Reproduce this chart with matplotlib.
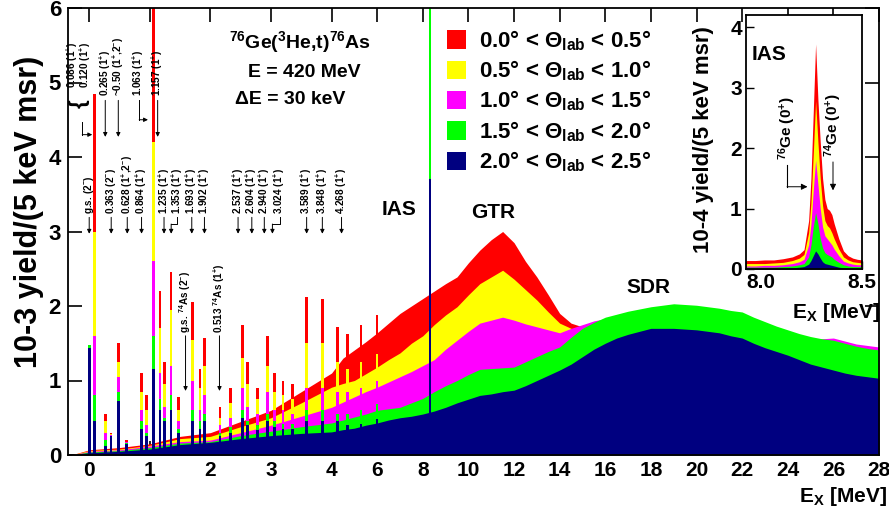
import numpy as np
import matplotlib
matplotlib.use("Agg")
import matplotlib.pyplot as plt
from matplotlib.patches import Patch

plt.rcParams['font.family'] = ['Liberation Sans', 'DejaVu Sans']
plt.rcParams['font.weight'] = 'bold'
plt.rcParams['mathtext.fontset'] = 'custom'
plt.rcParams['mathtext.rm'] = 'Liberation Sans:bold'
plt.rcParams['mathtext.it'] = 'Liberation Sans:bold'
plt.rcParams['mathtext.bf'] = 'Liberation Sans:bold'
plt.rcParams['mathtext.default'] = 'rm'

# ========== DATA ==========
ANGLE_BINS = ["0.0° < Θ$_{lab}$ < 0.5°", "0.5° < Θ$_{lab}$ < 1.0°",
              "1.0° < Θ$_{lab}$ < 1.5°", "1.5° < Θ$_{lab}$ < 2.0°",
              "2.0° < Θ$_{lab}$ < 2.5°"]
COLORS = ["#ff0000", "#ffff00", "#ff00ff", "#00ff00", "#000080"]

# smooth continuum, 10^-3 yield/(5 keV msr)
E_CONT = [-0.3, 0.0, 0.5, 1.0, 1.5, 2.0, 2.5, 3.0, 3.5, 4.0, 4.5, 5.0, 5.5, 6.0,
          6.5, 7.0, 7.5, 8.0, 8.5, 9.0, 9.5, 10.0, 10.5, 11.0, 11.5, 12.0, 12.5,
          13.0, 13.5, 14.0, 14.5, 15.0, 15.5, 16.0, 16.5, 17.0, 17.5, 18.0, 18.5,
          19.0, 19.5, 20.0, 20.5, 21.0, 21.5, 22.0, 22.5, 23.0, 23.5, 24.0, 24.5,
          25.0, 25.5, 26.0, 26.5, 27.0, 27.5, 28.0]
CONT_RED = [0, 0.07, 0.10, 0.15, 0.25, 0.30, 0.45, 0.60, 0.85, 1.10, 1.30, 1.41, 1.52, 1.64,
            1.77, 1.90, 2.00, 2.10, 2.20, 2.30, 2.39, 2.58, 2.75, 2.89, 3.00, 2.85, 2.60,
            2.39, 2.15, 1.90, 1.77, 1.72, 1.62, 1.63, 1.65, 1.67, 1.69, 1.71, 1.72,
            1.73, 1.73, 1.72, 1.70, 1.68, 1.65, 1.62, 1.57, 1.52, 1.47, 1.43, 1.39,
            1.35, 1.32, 1.30, 1.28, 1.26, 1.25, 1.23]
CONT_YEL = [0, 0.06, 0.08, 0.13, 0.22, 0.25, 0.38, 0.50, 0.70, 0.91, 0.96, 1.00, 1.09, 1.18,
            1.28, 1.37, 1.50, 1.60, 1.75, 1.88, 1.99, 2.15, 2.30, 2.39, 2.48, 2.36, 2.22,
            2.08, 1.92, 1.77, 1.70, 1.66, 1.66, 1.68, 1.70, 1.72, 1.74, 1.76, 1.77,
            1.78, 1.78, 1.77, 1.75, 1.73, 1.70, 1.67, 1.62, 1.57, 1.52, 1.48, 1.44,
            1.40, 1.37, 1.35, 1.33, 1.31, 1.30, 1.28]
CONT_MAG = [0, 0.05, 0.07, 0.12, 0.18, 0.20, 0.30, 0.40, 0.52, 0.64, 0.71, 0.78, 0.85, 0.91,
            0.98, 1.05, 1.12, 1.20, 1.28, 1.42, 1.54, 1.66, 1.77, 1.81, 1.85, 1.81, 1.76,
            1.72, 1.68, 1.64, 1.70, 1.75, 1.80, 1.83, 1.82, 1.84, 1.86, 1.88, 1.90,
            1.90, 1.90, 1.89, 1.87, 1.85, 1.83, 1.80, 1.75, 1.70, 1.65, 1.62, 1.58,
            1.56, 1.56, 1.57, 1.53, 1.49, 1.47, 1.45]
CONT_GRN = [0, 0.04, 0.06, 0.10, 0.16, 0.18, 0.26, 0.32, 0.38, 0.43, 0.47, 0.51, 0.55, 0.60,
            0.62, 0.64, 0.70, 0.76, 0.85, 0.93, 1.00, 1.08, 1.15, 1.16, 1.17, 1.18, 1.25,
            1.32, 1.39, 1.45, 1.58, 1.70, 1.78, 1.85, 1.89, 1.93, 1.96, 1.99, 2.01,
            2.03, 2.02, 2.01, 1.99, 1.97, 1.94, 1.92, 1.85, 1.79, 1.73, 1.68, 1.63,
            1.59, 1.56, 1.54, 1.50, 1.46, 1.43, 1.41]
CONT_BLU = [0, 0.03, 0.05, 0.08, 0.14, 0.17, 0.22, 0.26, 0.29, 0.31, 0.34, 0.36, 0.40, 0.43,
            0.47, 0.50, 0.52, 0.55, 0.59, 0.64, 0.70, 0.75, 0.80, 0.82, 0.85, 0.87, 0.93,
            1.00, 1.07, 1.14, 1.22, 1.32, 1.42, 1.50, 1.57, 1.62, 1.66, 1.70, 1.70,
            1.70, 1.69, 1.68, 1.66, 1.64, 1.60, 1.57, 1.50, 1.44, 1.39, 1.34, 1.28,
            1.22, 1.18, 1.14, 1.10, 1.07, 1.05, 1.03]

# discrete peaks (MeV) and their heights per angle bin
PEAK_E = [0.00, 0.09, 0.27, 0.36, 0.48, 0.62, 0.86, 0.94, 1.06, 1.17, 1.24, 1.35, 1.47,
          1.70, 1.83, 1.90, 2.16, 2.33, 2.53, 2.61, 2.78, 2.94, 3.06, 3.20, 3.35, 3.59,
          3.85, 4.27, 4.70, 5.30, 6.00, 8.31]
PEAK_RED = [1.20, 4.85, 0.55, 0.30, 1.50, 0.20, 1.10, 0.80, 6.50, 2.20, 1.25, 2.45, 0.78,
            2.05, 1.15, 1.57, 0.65, 0.90, 1.75, 1.25, 0.90, 1.60, 1.10, 1.00, 0.95, 2.12,
            2.10, 1.72, 1.62, 1.75, 1.88, 7.00]
PEAK_YEL = [1.30, 3.00, 0.45, 0.28, 1.25, 0.18, 0.85, 0.60, 4.20, 1.70, 0.95, 1.95, 0.60,
            1.55, 0.90, 1.20, 0.50, 0.70, 1.30, 0.95, 0.75, 1.20, 0.85, 0.80, 0.75, 1.50,
            1.50, 1.25, 1.15, 1.25, 1.35, 7.00]
PEAK_MAG = [1.40, 1.60, 0.30, 0.27, 1.05, 0.17, 0.60, 0.40, 2.60, 1.10, 0.65, 1.20, 0.45,
            1.00, 0.60, 0.80, 0.40, 0.50, 0.90, 0.65, 0.55, 0.85, 0.60, 0.60, 0.55, 0.90,
            0.90, 0.85, 0.85, 0.90, 1.00, 7.00]
PEAK_GRN = [1.48, 0.80, 0.20, 0.26, 0.85, 0.16, 0.45, 0.30, 1.60, 0.75, 0.50, 0.80, 0.35,
            0.60, 0.45, 0.55, 0.30, 0.38, 0.60, 0.45, 0.40, 0.55, 0.45, 0.42, 0.42, 0.60,
            0.60, 0.55, 0.55, 0.60, 0.68, 7.00]
PEAK_BLU = [1.44, 0.45, 0.12, 0.25, 0.72, 0.15, 0.35, 0.25, 1.15, 0.60, 0.45, 0.60, 0.30,
            0.45, 0.35, 0.45, 0.25, 0.30, 0.50, 0.40, 0.33, 0.45, 0.38, 0.35, 0.35, 0.45,
            0.45, 0.45, 0.40, 0.42, 0.48, 3.70]

# IAS inset, 10^-4 yield/(5 keV msr)
E_INSET = [8.00, 8.04, 8.08, 8.12, 8.16, 8.20, 8.23, 8.25, 8.27, 8.28, 8.29, 8.30, 8.31,
           8.32, 8.33, 8.34, 8.35, 8.36, 8.37, 8.38, 8.40, 8.42, 8.44, 8.46, 8.48, 8.50]
INS_RED = [0.14, 0.14, 0.15, 0.15, 0.17, 0.20, 0.25, 0.32, 0.80, 1.50, 2.60, 3.72, 2.80,
           2.10, 1.50, 1.15, 1.00, 0.97, 0.90, 0.75, 0.50, 0.30, 0.22, 0.18, 0.16, 0.15]
INS_YEL = [0.09, 0.09, 0.09, 0.10, 0.11, 0.14, 0.18, 0.24, 0.60, 1.10, 1.90, 2.78, 2.10,
           1.50, 1.05, 0.80, 0.72, 0.68, 0.60, 0.50, 0.33, 0.20, 0.15, 0.12, 0.11, 0.10]
INS_MAG = [0.05, 0.05, 0.06, 0.06, 0.07, 0.09, 0.12, 0.16, 0.40, 0.75, 1.30, 1.80, 1.40,
           1.00, 0.70, 0.55, 0.50, 0.45, 0.40, 0.33, 0.22, 0.13, 0.10, 0.08, 0.07, 0.07]
INS_GRN = [0.03, 0.03, 0.03, 0.03, 0.04, 0.05, 0.07, 0.09, 0.20, 0.40, 0.70, 0.93, 0.75,
           0.50, 0.35, 0.27, 0.24, 0.22, 0.20, 0.16, 0.11, 0.07, 0.05, 0.04, 0.04, 0.04]
INS_BLU = [0.01, 0.01, 0.01, 0.01, 0.01, 0.02, 0.03, 0.04, 0.08, 0.14, 0.22, 0.30, 0.25,
           0.18, 0.12, 0.09, 0.08, 0.07, 0.06, 0.05, 0.03, 0.02, 0.015, 0.01, 0.01, 0.01]

X_TICKS = [0, 1, 2, 3, 4, 6, 8, 10, 12, 14, 16, 18, 20, 22, 24, 26, 28]

LOW_LEVELS = [0.0, 0.363, 0.628, 0.864, 1.235, 1.353, 1.693, 1.902, 2.537, 2.604,
              2.940, 3.024, 3.589, 3.848, 4.268]
LOW_LABELS = ["g.s. (2$^{-}$)", "0.363 (2$^{-}$)", "0.628 (1$^{+}$,2$^{-}$)", "0.864 (1$^{+}$)",
              "1.235 (1$^{+}$)", "1.353 (1$^{+}$)", "1.693 (1$^{+}$)", "1.902 (1$^{+}$)",
              "2.537 (1$^{+}$)", "2.604 (1$^{+}$)", "2.940 (1$^{+}$)", "3.024 (1$^{+}$)",
              "3.589 (1$^{+}$)", "3.848 (1$^{+}$)", "4.268 (1$^{+}$)"]
# ==========================

SERIES_CONT = [CONT_RED, CONT_YEL, CONT_MAG, CONT_GRN, CONT_BLU]
SERIES_PEAK = [PEAK_RED, PEAK_YEL, PEAK_MAG, PEAK_GRN, PEAK_BLU]
SERIES_INS = [INS_RED, INS_YEL, INS_MAG, INS_GRN, INS_BLU]

K = 0.3765  # compression of the axis above 4 MeV


def fwd(x):
    x = np.asarray(x, float)
    return np.where(x <= 4, x, 4 + (x - 4) * K)


def inv(u):
    u = np.asarray(u, float)
    return np.where(u <= 4, u, 4 + (u - 4) / K)


W, H = 889, 513
fig = plt.figure(figsize=(W / 100, H / 100), dpi=100)
ax = fig.add_axes([68 / W, 1 - 455 / H, 811 / W, 447 / H])
ax.set_xscale('function', functions=(fwd, inv))

peak_e = np.array(PEAK_E)
widths = np.where(peak_e < 4, 0.045, 0.11)
for z, (c, cont, pk) in enumerate(zip(COLORS, SERIES_CONT, SERIES_PEAK)):
    ax.fill_between(E_CONT, cont, 0, color=c, lw=0, zorder=2 + z)
    ax.bar(peak_e, pk, width=widths, color=c, lw=0, zorder=2 + z)

ax.set_xlim(-0.35, 28)
ax.set_ylim(0, 6)
ax.set_xticks(X_TICKS)
ax.set_xticklabels([str(t) for t in X_TICKS])
ax.set_yticks(range(7))
ax.tick_params(direction='in', top=True, right=True, length=10, width=1.2, pad=4)
ax.tick_params(axis='x', labelsize=15)
ax.tick_params(axis='y', labelsize=16, pad=5)
for s in ax.spines.values():
    s.set_linewidth(1.3)
    s.set_zorder(20)

fig.text(29 / W, 1 - 212 / H, "10-3 yield/(5 keV msr)", rotation=90,
         ha='center', va='center', fontsize=22)
fig.text(887 / W, 1 - 497 / H, "E$_{X}$ [MeV]", ha='right', va='center', fontsize=15)

handles = [Patch(facecolor=c, edgecolor='none') for c in COLORS]
ax.legend(handles, ANGLE_BINS, loc='upper left', bbox_to_anchor=(0.456, 0.975),
          frameon=False, fontsize=16, handlelength=0.85, handleheight=0.9,
          handletextpad=0.6, labelspacing=0.26, borderaxespad=0)

ax.text(3.48, 5.54, "$^{76}$Ge($^{3}$He,t)$^{76}$As", ha='center', va='center', fontsize=14)
ax.text(3.55, 5.14, "E = 420 MeV", ha='center', va='center', fontsize=14)
ax.text(3.32, 4.77, "ΔE = 30 keV", ha='center', va='center', fontsize=14)
ax.text(6.97, 3.29, "IAS", ha='center', va='center', fontsize=15, zorder=30)
ax.text(11.1, 3.26, "GTR", ha='center', va='center', fontsize=15, zorder=30)
ax.text(17.9, 2.25, "SDR", ha='center', va='center', fontsize=15, zorder=30)

arrow = dict(arrowstyle='-|>', lw=0.7, color='k', mutation_scale=6, shrinkA=0, shrinkB=0)
lbl = dict(rotation=90, ha='center', va='bottom', fontsize=7.2, zorder=30)

# upper row of level labels
ax.text(-0.27, 4.92, "0.086 (1$^{+}$)", **lbl)
ax.text(-0.06, 4.92, "0.120 (1$^{+}$)", **lbl)
ax.text(-0.165, 4.72, "{", rotation=90, ha='center', va='center', fontsize=16, zorder=30)
ax.plot([-0.115, -0.115], [4.47, 4.30], color='k', lw=0.7, zorder=30)
ax.annotate("", xy=(0.05, 4.30), xytext=(-0.115, 4.30), arrowprops=arrow, zorder=30)
for e, t in [(0.265, "0.265 (1$^{+}$)"), (0.48, "~0.50 (1$^{+}$,2$^{-}$)"),
             (1.13, "1.157 (1$^{+}$)")]:
    ax.text(e, 4.82, t, **lbl)
    ax.annotate("", xy=(e, 4.27), xytext=(e, 4.76), arrowprops=arrow, zorder=30)
ax.text(0.81, 4.82, "1.063 (1$^{+}$)", **lbl)
ax.plot([0.825, 0.825], [4.76, 4.50], color='k', lw=0.7, zorder=30)
ax.annotate("", xy=(0.97, 4.50), xytext=(0.825, 4.50), arrowprops=arrow, zorder=30)

# lower row of level labels: label x shift and whether a bent connector is used
text_shift = {1.353: (0.10, True), 2.537: (-0.08, False), 2.604: (0.08, False),
              2.940: (-0.05, False), 3.024: (0.12, True), 4.268: (0.17, False)}
for e, t in zip(LOW_LEVELS, LOW_LABELS):
    dx, bent = text_shift.get(e, (0.0, False))
    xt = e + dx
    ax.text(xt, 3.23, t, **lbl)
    if bent:
        ax.plot([xt, xt, e], [3.20, 3.10, 3.10], color='k', lw=0.7, zorder=30)
        ax.annotate("", xy=(e, 2.97), xytext=(e, 3.10), arrowprops=arrow, zorder=30)
    else:
        ax.annotate("", xy=(xt, 2.97), xytext=(xt, 3.19), arrowprops=arrow, zorder=30)

for e, t in [(1.59, "g.s. $^{74}$As (2$^{-}$)"), (2.15, "0.513 $^{74}$As (1$^{+}$)")]:
    ax.text(e, 1.64, t, **lbl)
    ax.annotate("", xy=(e, 0.86), xytext=(e, 1.60), arrowprops=arrow, zorder=30)

# inset with the IAS
axi = fig.add_axes([746 / W, 1 - 269 / H, 116 / W, 254 / H])
for z, (c, vals) in enumerate(zip(COLORS, SERIES_INS)):
    axi.fill_between(E_INSET, vals, 0, color=c, lw=0, zorder=2 + z)
axi.set_xlim(8.0, 8.5)
axi.set_ylim(0, 4.2)
axi.set_xticks([8.0, 8.5])
axi.set_xticklabels(["8.0", "8.5"])
axi.get_xticklabels()[0].set_ha('left')
axi.set_yticks(range(5))
axi.tick_params(direction='in', length=6, width=1.0, labelsize=15, pad=3)
for s in axi.spines.values():
    s.set_linewidth(1.3)
    s.set_zorder(20)
fig.text(703 / W, 1 - 140 / H, "10-4 yield/(5 keV msr)", rotation=90,
         ha='center', va='center', fontsize=16)
fig.text(836 / W, 1 - 313 / H, "E$_{X}$ [MeV]", ha='center', va='center', fontsize=15,
         zorder=30)
axi.text(8.10, 3.54, "IAS", ha='center', va='center', fontsize=15)
ilbl = dict(rotation=90, ha='center', va='bottom', fontsize=11, zorder=30)
axi.text(8.177, 1.80, "$^{76}$Ge (0$^{+}$)", **ilbl)
axi.plot([8.177, 8.177], [1.72, 1.36], color='k', lw=0.8, zorder=30)
axi.annotate("", xy=(8.265, 1.36), xytext=(8.177, 1.36),
             arrowprops=dict(arrow, mutation_scale=9), zorder=30)
axi.text(8.375, 1.85, "$^{74}$Ge (0$^{+}$)", **ilbl)
axi.annotate("", xy=(8.375, 1.30), xytext=(8.375, 1.77),
             arrowprops=dict(arrow, mutation_scale=9), zorder=30)

fig.savefig("out.png", dpi=100)
